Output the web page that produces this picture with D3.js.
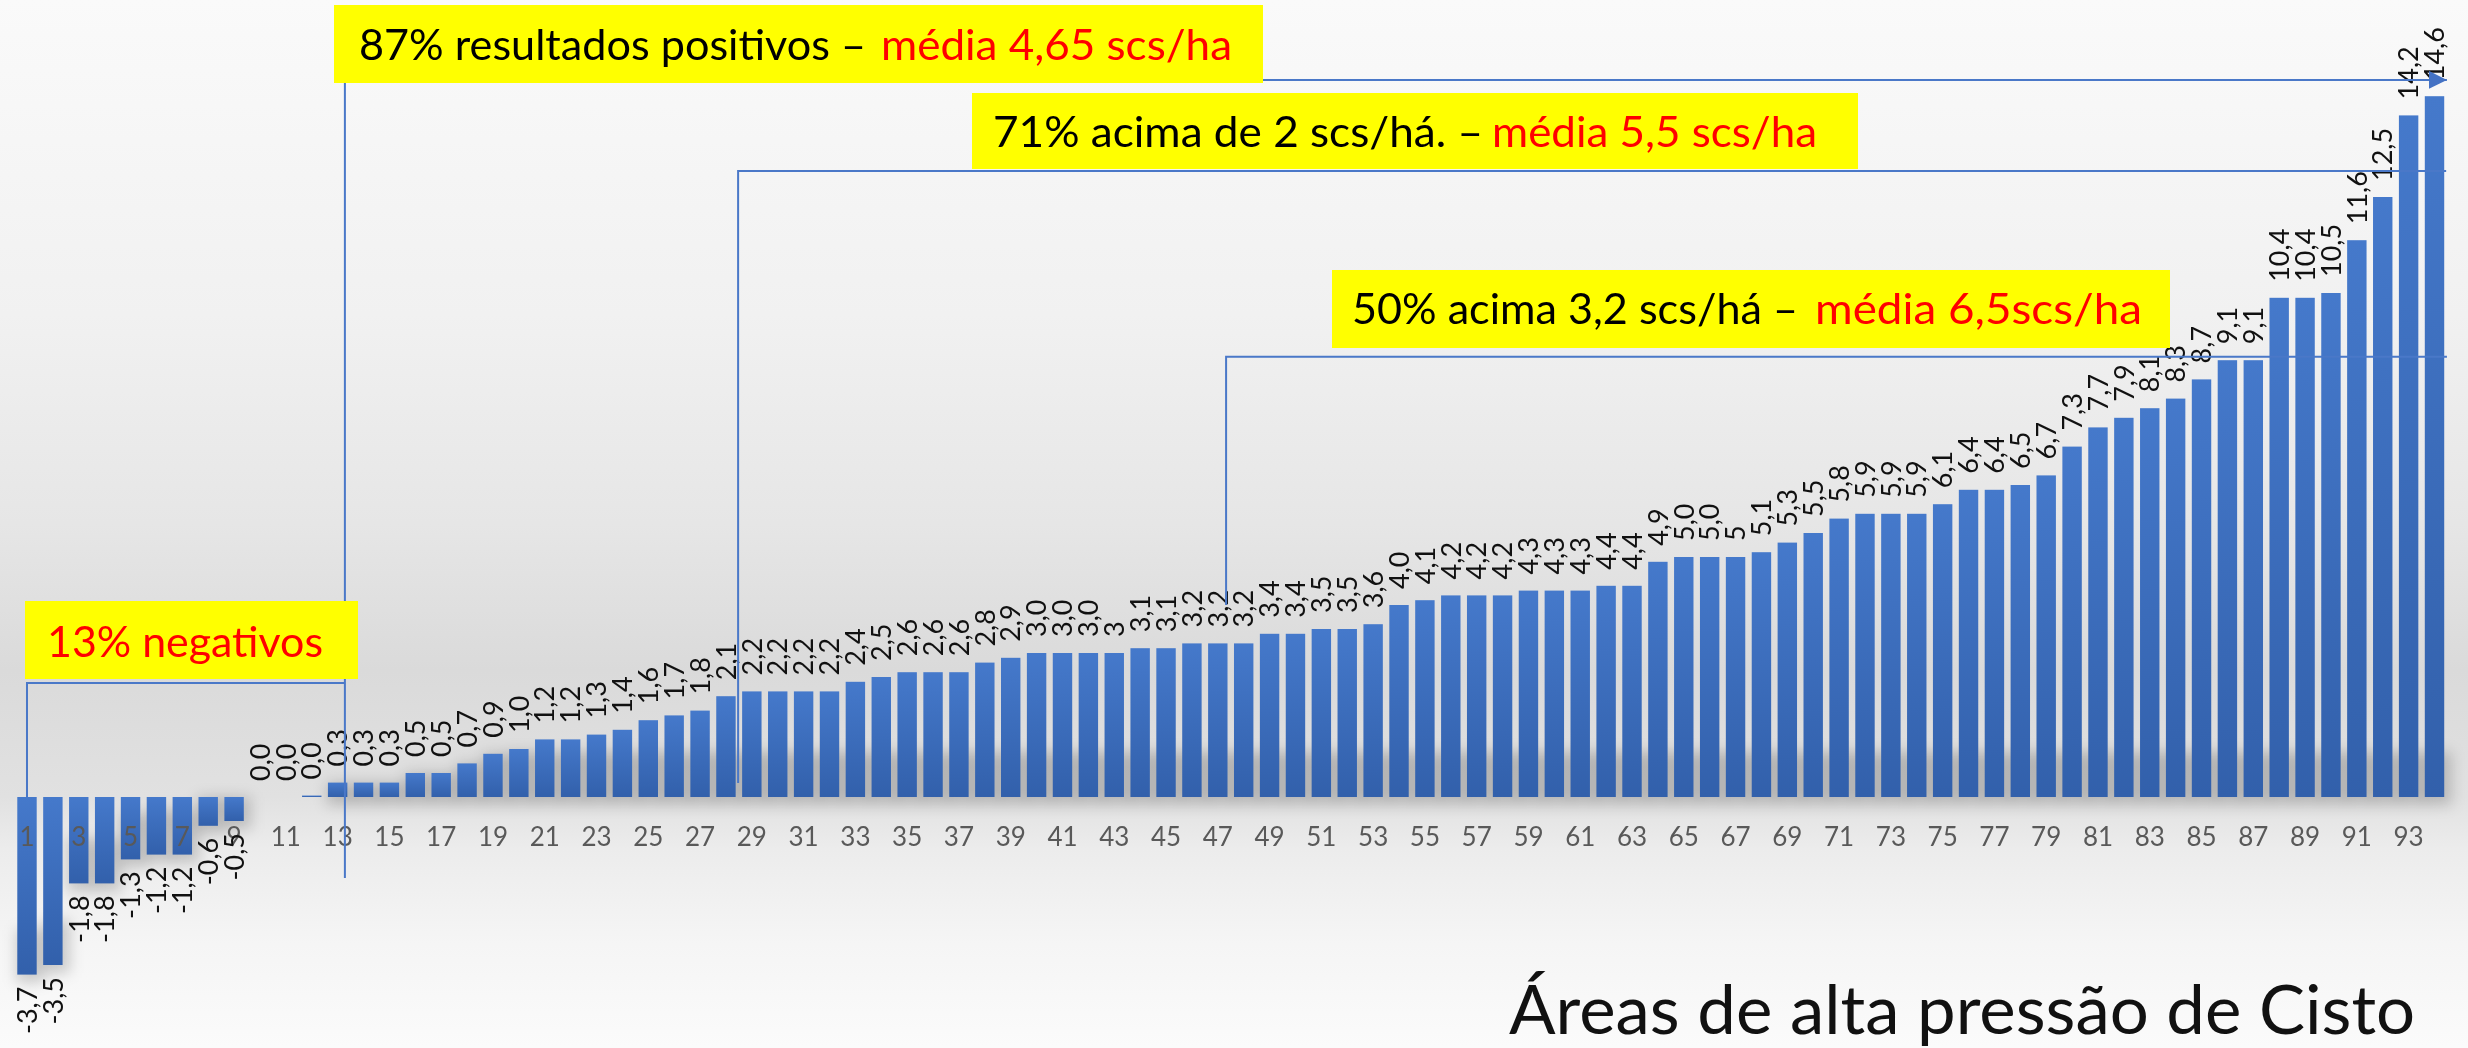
<!DOCTYPE html>
<html><head><meta charset="utf-8">
<script src="https://cdn.jsdelivr.net/npm/d3@7"></script>
<style>html,body{margin:0;padding:0;background:#fff;} svg{display:block;}</style>
</head><body>
<svg id="chart" width="2468" height="1048"></svg>
<script>
// ---------- DATA ----------
const categories = [1,2,3,4,5,6,7,8,9,10,11,12,13,14,15,16,17,18,19,20,21,22,23,24,25,26,27,28,29,30,31,32,33,34,35,36,37,38,39,40,41,42,43,44,45,46,47,48,49,50,51,52,53,54,55,56,57,58,59,60,61,62,63,64,65,66,67,68,69,70,71,72,73,74,75,76,77,78,79,80,81,82,83,84,85,86,87,88,89,90,91,92,93,94];
const values = [-3.7,-3.5,-1.8,-1.8,-1.3,-1.2,-1.2,-0.6,-0.5,0,0,0.03,0.3,0.3,0.3,0.5,0.5,0.7,0.9,1.0,1.2,1.2,1.3,1.4,1.6,1.7,1.8,2.1,2.2,2.2,2.2,2.2,2.4,2.5,2.6,2.6,2.6,2.8,2.9,3.0,3.0,3.0,3.0,3.1,3.1,3.2,3.2,3.2,3.4,3.4,3.5,3.5,3.6,4.0,4.1,4.2,4.2,4.2,4.3,4.3,4.3,4.4,4.4,4.9,5.0,5.0,5.0,5.1,5.3,5.5,5.8,5.9,5.9,5.9,6.1,6.4,6.4,6.5,6.7,7.3,7.7,7.9,8.1,8.3,8.7,9.1,9.1,10.4,10.4,10.5,11.6,12.5,14.2,14.6];
const valueLabels = ["-3,7","-3,5","-1,8","-1,8","-1,3","-1,2","-1,2","-0,6","-0,5","0,0","0,0","0,0","0,3","0,3","0,3","0,5","0,5","0,7","0,9","1,0","1,2","1,2","1,3","1,4","1,6","1,7","1,8","2,1","2,2","2,2","2,2","2,2","2,4","2,5","2,6","2,6","2,6","2,8","2,9","3,0","3,0","3,0","3","3,1","3,1","3,2","3,2","3,2","3,4","3,4","3,5","3,5","3,6","4,0","4,1","4,2","4,2","4,2","4,3","4,3","4,3","4,4","4,4","4,9","5,0","5,0","5","5,1","5,3","5,5","5,8","5,9","5,9","5,9","6,1","6,4","6,4","6,5","6,7","7,3","7,7","7,9","8,1","8,3","8,7","9,1","9,1","10,4","10,4","10,5","11,6","12,5","14,2","14,6"];
const tickLabels = [1,3,5,7,9,11,13,15,17,19,21,23,25,27,29,31,33,35,37,39,41,43,45,47,49,51,53,55,57,59,61,63,65,67,69,71,73,75,77,79,81,83,85,87,89,91,93];
const titleText = "Áreas de alta pressão de Cisto";
const boxNeg = ["13% negativos"];
const boxPos = ["87% resultados positivos –", "média 4,65 scs/ha"];
const box71 = ["71% acima de 2 scs/há. –", "média 5,5 scs/ha"];
const box50 = ["50% acima 3,2 scs/há –", "média  6,5scs/ha"];
// bracket annotations in data units (fractional bar index, value)
const bracketNeg = {from: 1, to: 13.28, level: 2.375};
const bracketPos = {from: 13.28, bottom: -1.69, level: 14.94, end: 94.48};
const bracket71  = {from: 28.47, bottom: 0.29, level: 13.04, end: 94.45};
const bracket50  = {from: 47.32, bottom: 4.0, level: 9.17, end: 94.48};

// ---------- SETUP ----------
const W = 2468, H = 1048;
const svg = d3.select('#chart');
const defs = svg.append('defs');

const bg = defs.append('linearGradient').attr('id','bg').attr('x1',0).attr('y1',0).attr('x2',0).attr('y2',1);
[[0,'#fafafa'],[0.3,'#f1f1f1'],[0.5,'#e6e6e6'],[0.64,'#dadada'],[0.76,'#e1e1e1'],[0.81,'#ececec'],[0.9,'#f5f5f5'],[1,'#fbfbfb']]
  .forEach(([o,c]) => bg.append('stop').attr('offset',o).attr('stop-color',c));

const bg2 = defs.append('linearGradient').attr('id','barGrad').attr('x1',0).attr('y1',0).attr('x2',0).attr('y2',1);
bg2.append('stop').attr('offset',0).attr('stop-color','#4579cb');
bg2.append('stop').attr('offset',1).attr('stop-color','#3260ab');

defs.append('filter').attr('id','blur').attr('x','-50%').attr('y','-50%').attr('width','200%').attr('height','200%')
  .append('feGaussianBlur').attr('stdDeviation',7);

const arrow = defs.append('marker').attr('id','arrow').attr('viewBox','0 0 10 10')
  .attr('refX',10).attr('refY',5).attr('markerWidth',18).attr('markerHeight',18)
  .attr('markerUnits','userSpaceOnUse').attr('orient','auto');
arrow.append('path').attr('d','M0,0 L10,5 L0,10 Z').attr('fill','#4472c4');

svg.append('rect').attr('width',W).attr('height',H).attr('fill','url(#bg)');

const x = d3.scaleBand().domain(categories).range([14.05, 2447.45]).paddingInner(0.25).paddingOuter(0.125);
const y = d3.scaleLinear().domain([-4, 16]).range([989, 29]);
const xc = i => x(categories[0]) + x.bandwidth()/2 + (i - categories[0]) * x.step();

// shadows
const shadowG = svg.append('g').attr('filter','url(#blur)');
shadowG.selectAll('rect').data(values.map((v,i)=>({v, c: categories[i]})).filter(d => Math.abs(y(d.v)-y(0)) > 2))
  .join('rect')
  .attr('x', d => x(d.c) - 1)
  .attr('width', x.bandwidth() + 8)
  .attr('y', d => Math.max(y(d.v), y(0)) - Math.min(45, Math.abs(y(d.v)-y(0))))
  .attr('height', d => Math.min(45, Math.abs(y(d.v)-y(0))) + 8)
  .attr('fill','#000').attr('opacity',0.18);

// bars
svg.append('g').selectAll('rect').data(values).join('rect')
  .attr('x', (d,i) => x(categories[i]))
  .attr('width', x.bandwidth())
  .attr('y', d => Math.min(y(d), y(0)))
  .attr('height', d => Math.abs(y(d) - y(0)))
  .attr('fill','url(#barGrad)');

// x axis labels
const xAxis = d3.axisBottom(x).tickValues(tickLabels).tickSize(0).tickPadding(0);
const ax = svg.append('g').attr('transform', `translate(0,${y(0)})`).call(xAxis);
ax.select('.domain').remove();
ax.selectAll('text').attr('font-family','Lato').attr('font-size',26).attr('fill','#595959')
  .attr('dy',null).attr('y',49);

// data labels
svg.append('g').selectAll('text').data(values).join('text')
  .attr('transform', (d,i) => {
    const cx = x(categories[i]) + x.bandwidth()/2;
    const yy = d < 0 ? y(d) + 12 : y(d) - 16;
    return `translate(${cx},${yy}) rotate(-90)`;
  })
  .attr('text-anchor', d => d < 0 ? 'end' : 'start')
  .attr('dy','0.36em')
  .attr('font-family','Lato').attr('font-size',27).attr('fill','#111')
  .text((d,i) => valueLabels[i]);

// annotation lines
const lineG = svg.append('g').attr('fill','none').attr('stroke','#4a78c8').attr('stroke-width',2);
lineG.append('path').attr('d', `M${xc(bracketNeg.from)},${y(0)} V${y(bracketNeg.level)} H${xc(bracketNeg.to)}`);
lineG.append('path').attr('d', `M${xc(bracketPos.from)},${y(bracketPos.bottom)} V${y(bracketPos.level)} H${xc(bracketPos.end)}`)
  .attr('marker-end','url(#arrow)');
lineG.append('path').attr('d', `M${xc(bracket71.from)},${y(bracket71.bottom)} V${y(bracket71.level)} H${xc(bracket71.end)}`);
lineG.append('path').attr('d', `M${xc(bracket50.from)},${y(bracket50.bottom)} V${y(bracket50.level)} H${xc(bracket50.end)}`);

// boxes
function box(x0, y0, x1, y1) {
  svg.append('rect').attr('x',x0).attr('y',y0).attr('width',x1-x0).attr('height',y1-y0).attr('fill','#ffff00');
}
function txt(str, x0, x1, base, color, size) {
  svg.append('text').attr('x',x0).attr('y',base).attr('font-family','Lato').attr('font-size',size)
    .attr('fill',color).attr('textLength',x1-x0).attr('lengthAdjust','spacingAndGlyphs').text(str);
}
box(334, 5, 1263, 83);
txt(boxPos[0], 359, 866, 60, '#000', 43);
txt(boxPos[1], 881, 1232, 60, '#ff0000', 43);

box(972, 93, 1858, 169);
txt(box71[0], 993, 1483, 147, '#000', 43);
txt(box71[1], 1492, 1817, 147, '#ff0000', 43);

box(1332, 270, 2170, 348);
txt(box50[0], 1352, 1798, 324, '#000', 43);
txt(box50[1], 1815, 2142, 324, '#ff0000', 43);

box(25, 601, 358, 679);
txt(boxNeg[0], 47, 323, 657, '#ff0000', 43);

// title
txt(titleText, 1509, 2415, 1034, '#111', 68);
</script>
</body></html>
